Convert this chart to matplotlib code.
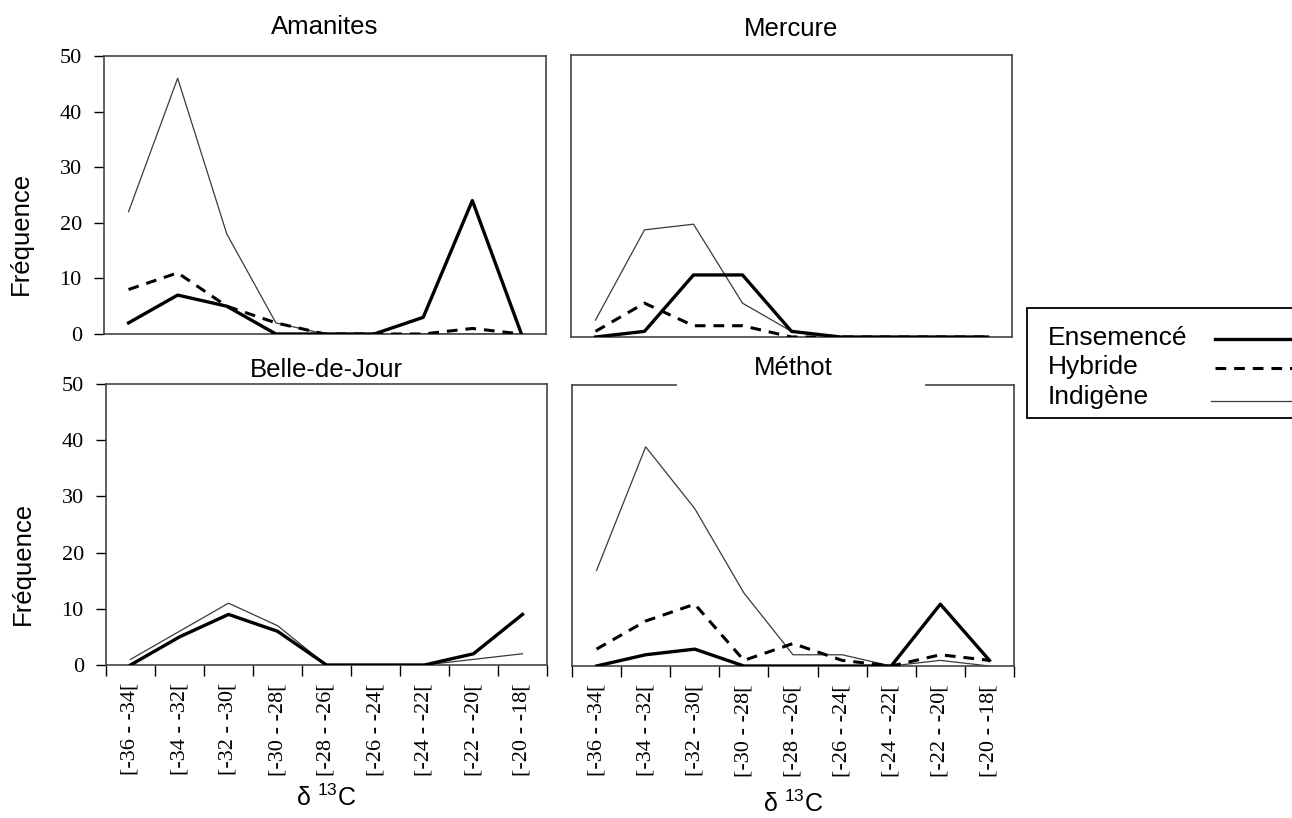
import matplotlib

matplotlib.use("Agg")
import matplotlib.pyplot as plt
import numpy as np
from matplotlib.lines import Line2D
from matplotlib.patches import Rectangle

plt.rcParams["font.family"] = ["Liberation Sans", "DejaVu Sans"]

bins = ["[-36 - -34[", "[-34 - -32[", "[-32 - -30[", "[-30 - -28[", "[-28 - -26[",
        "[-26 - -24[", "[-24 - -22[", "[-22 - -20[", "[-20 - -18["]

sites = ["Amanites", "Mercure", "Belle-de-Jour", "Méthot"]

ensemence = {
    "Amanites": [2, 7, 5, 0, 0, 0, 3, 24, 0],
    "Mercure": [0, 1, 11, 11, 1, 0, 0, 0, 0],
    "Belle-de-Jour": [0, 5, 9, 6, 0, 0, 0, 2, 9],
    "Méthot": [0, 2, 3, 0, 0, 0, 0, 11, 1],
}
# no hybrid series is drawn for Belle-de-Jour
hybride = {
    "Amanites": [8, 11, 5, 2, 0, 0, 0, 1, 0],
    "Mercure": [1, 6, 2, 2, 0, 0, 0, 0, 0],
    "Belle-de-Jour": [np.nan] * 9,
    "Méthot": [3, 8, 11, 1, 4, 1, 0, 2, 1],
}
indigene = {
    "Amanites": [22, 46, 18, 2, 0, 0, 0, 0, 0],
    "Mercure": [3, 19, 20, 6, 1, 0, 0, 0, 0],
    "Belle-de-Jour": [1, 6, 11, 7, 0, 0, 0, 1, 2],
    "Méthot": [17, 39, 28, 13, 2, 2, 0, 1, 0],
}

legend_labels = ["Ensemencé", "Hybride", "Indigène"]

STYLE_ENS = dict(color="black", linewidth=2.4, linestyle="-")
STYLE_HYB = dict(color="black", linewidth=2.2, linestyle=(0, (3.5, 2.6)))
STYLE_IND = dict(color="#3a3a3a", linewidth=0.9, linestyle="-")

W, H = 1292, 818
fig = plt.figure(figsize=(W / 100, H / 100), dpi=100)


def box(left, top, right, bottom):
    return [left / W, 1 - bottom / H, (right - left) / W, (bottom - top) / H]


positions = {
    "Amanites": box(104, 56, 546, 334),
    "Mercure": box(571, 55, 1012, 337),
    "Belle-de-Jour": box(106, 384, 547, 665),
    "Méthot": box(572, 385, 1014, 666),
}
title_pad = {"Amanites": 16, "Mercure": 14, "Belle-de-Jour": 5, "Méthot": 7}
xlabel_y = {"Belle-de-Jour": -0.473, "Méthot": -0.49}

x = np.arange(len(bins))
serif = ["Liberation Serif", "DejaVu Serif"]

for site in sites:
    ax = fig.add_axes(positions[site])
    ax.plot(x, indigene[site], **STYLE_IND, zorder=2)
    ax.plot(x, hybride[site], **STYLE_HYB, zorder=3)
    ax.plot(x, ensemence[site], **STYLE_ENS, zorder=4)
    ax.set_xlim(-0.5, len(bins) - 0.5)
    ax.set_ylim(0, 50)
    for sp in ax.spines.values():
        sp.set_color("#444444")
        sp.set_linewidth(1.2)

    left_col = site in ("Amanites", "Belle-de-Jour")
    bottom_row = site in ("Belle-de-Jour", "Méthot")

    if left_col:
        ax.set_yticks(np.arange(0, 51, 10))
        ax.tick_params(axis="y", direction="out", length=7, width=1, pad=9, labelsize=16)
        for lab in ax.get_yticklabels():
            lab.set_fontfamily(serif)
        ax.set_ylabel("Fréquence", fontsize=18.5, va="center", ha="center")
        ax.yaxis.set_label_coords((22 - 105) / 442, 0.36)
    else:
        ax.set_yticks([])

    if bottom_row:
        ax.set_xticks(np.arange(len(bins) + 1) - 0.5)
        ax.set_xticklabels([])
        ax.set_xticks(x, minor=True)
        ax.set_xticklabels(bins, minor=True, rotation=90, fontfamily=serif, fontsize=16)
        ax.tick_params(axis="x", which="major", direction="out", length=8, width=1)
        ax.tick_params(axis="x", which="minor", length=0, pad=13)
        ax.set_xlabel("δ $^{\\mathregular{13}}$C", fontsize=18, va="center")
        ax.xaxis.set_label_coords(0.5, xlabel_y[site])
    else:
        ax.set_xticks([])

    ax.set_title(site, fontsize=18.5, pad=title_pad[site])

    if site == "Méthot":
        # white patch over part of the top frame, behind the title
        ax.plot([0.242, 0.794], [1, 1], color="white", linewidth=3,
                transform=ax.transAxes, clip_on=False, zorder=5)

# legend box, drawn by hand so the labels stay left-aligned and the keys run off the edge
fig.patches.append(Rectangle((1027 / W, 1 - 418 / H), (1310 - 1027) / W, (418 - 308) / H,
                             transform=fig.transFigure, facecolor="white",
                             edgecolor="black", linewidth=1.3, zorder=1))
row_y = [338, 367, 397]
line_y = [339, 368, 401]
line_x0 = [1215, 1215, 1211]
for label, style, ty, ly, lx in zip(legend_labels, [STYLE_ENS, STYLE_HYB, STYLE_IND],
                                    row_y, line_y, line_x0):
    fig.text(1048 / W, 1 - ty / H, label, fontsize=19, ha="left", va="center")
    fig.add_artist(Line2D([lx / W, 1.01], [1 - ly / H, 1 - ly / H],
                          transform=fig.transFigure, **style))

fig.savefig("out.png", dpi=100)
